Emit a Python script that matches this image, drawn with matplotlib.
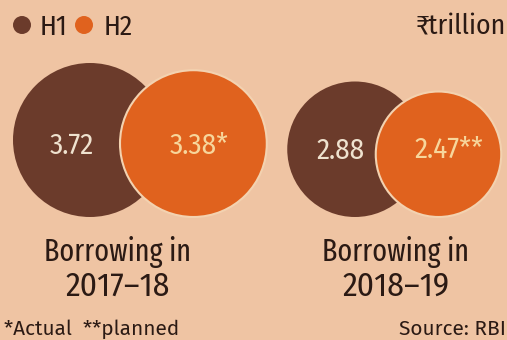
import matplotlib
matplotlib.use("Agg")
import matplotlib.pyplot as plt
from matplotlib.patches import Circle
import numpy as np

# data
years = ["2017-18", "2018-19"]
h1 = [3.72, 2.88]
h2 = [3.38, 2.47]
h2_marks = ["*", "**"]
series = ["H1", "H2"]

BG = "#efc4a3"
BROWN = "#6b3b2b"
ORANGE = "#e0621e"
TEXT = "#2b1a14"
FAM = ["Fira Sans Condensed", "Asap Condensed", "DejaVu Sans"]
FAM_NARROW = ["Fira Sans Extra Condensed", "Fira Sans Condensed", "DejaVu Sans"]
FAM_WIDE = ["Fira Sans", "Asap", "DejaVu Sans"]

plt.rcParams["font.family"] = FAM

fig = plt.figure(figsize=(5.07, 3.40), dpi=100, facecolor=BG)
ax = fig.add_axes([0, 0, 1, 1])
ax.set_xlim(0, 507)
ax.set_ylim(340, 0)
ax.set_aspect("equal")
ax.axis("off")

# circle areas scale with value, bottoms aligned
r_max = 77.0
v_max = max(h1 + h2)
base_y = 217
group_x = [90, 355]
overlap = 47
label_x = [118, 396]
num_dx = [(-18, 6), (-14, 10)]

for i, year in enumerate(years):
    r1 = r_max * np.sqrt(h1[i] / v_max)
    r2 = r_max * np.sqrt(h2[i] / v_max)
    x1 = group_x[i]
    x2 = x1 + r1 + r2 - overlap
    ax.add_patch(Circle((x1, base_y - r1), r1, facecolor=BROWN, edgecolor="none", zorder=2))
    ax.add_patch(Circle((x2, base_y - r2), r2, facecolor=ORANGE, edgecolor="#f3d2b0",
                        linewidth=1.5, zorder=3))
    ax.text(x1 + num_dx[i][0], 146 + 5 * i, f"{h1[i]:.2f}", ha="center", va="center",
            fontsize=21, color="#efe2cf", zorder=4)
    ax.text(x2 + num_dx[i][1], 146 + 4 * i, f"{h2[i]:.2f}" + h2_marks[i], ha="center",
            va="center", fontsize=21, color="#f7d69c", zorder=4)
    ax.text(label_x[i], 252, "Borrowing in", ha="center", va="center",
            fontsize=22, color=TEXT, family=FAM_NARROW)
    ax.text(label_x[i], 286, year.replace("-", "\u2013"), ha="center", va="center",
            fontsize=24, color=TEXT)

# legend
ax.add_patch(Circle((22, 25), 9, facecolor=BROWN, edgecolor="none"))
ax.text(40, 27, series[0], ha="left", va="center", fontsize=20, color=TEXT)
ax.add_patch(Circle((84, 25), 9, facecolor=ORANGE, edgecolor="none"))
ax.text(104, 27, series[1], ha="left", va="center", fontsize=20, color=TEXT)

ax.text(506, 27, "\u20b9trillion", ha="right", va="center", fontsize=20, color=TEXT)

ax.text(4, 329, "*Actual  **planned", ha="left", va="center", fontsize=15,
        color=TEXT, family=FAM_WIDE)
ax.text(506, 329, "Source: RBI", ha="right", va="center", fontsize=15,
        color=TEXT, family=FAM_WIDE)

fig.savefig("out.png", dpi=100, facecolor=BG)
